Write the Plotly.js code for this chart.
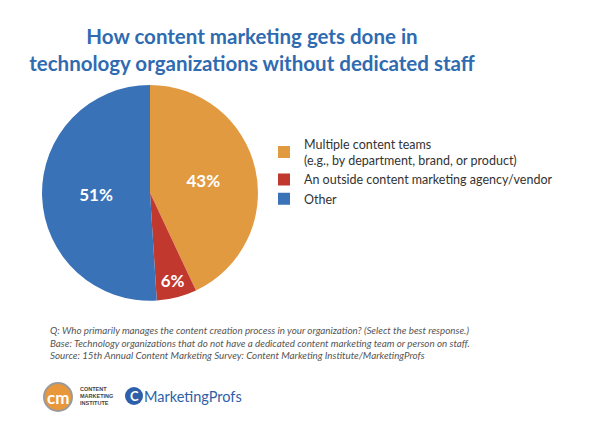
<!DOCTYPE html>
<html>
<head>
<meta charset="utf-8">
<script src="https://cdn.plot.ly/plotly-3.0.1.min.js"></script>
<style>
  html, body { margin: 0; padding: 0; background: #fff; }
  #myDiv { width: 600px; height: 431px; }
</style>
</head>
<body>
<div id="myDiv"></div>
<script>
// slices, clockwise from 12 o'clock
var labels = [
  'Multiple content teams<br>(e.g., by department, brand, or product)',
  'An outside content marketing agency/vendor',
  'Other'
];
var shares = [43, 6, 51];
var sliceColors = ['#E29A40', '#C1382F', '#3A72B8'];

var notes = [
  'Q: Who primarily manages the content creation process in your organization? (Select the best response.)',
  'Base: Technology organizations that do not have a dedicated content marketing team or person on staff.',
  'Source: 15th Annual Content Marketing Survey: Content Marketing Institute/MarketingProfs'
];

var pie = {
  type: 'pie',
  labels: labels,
  values: shares,
  sort: false,
  direction: 'clockwise',
  rotation: 0,
  marker: { colors: sliceColors, line: { width: 0 } },
  texttemplate: '<b>%{value}%</b>',
  textposition: 'inside',
  insidetextorientation: 'horizontal',
  textfont: { family: 'Lato, sans-serif', size: 17, color: '#fff' },
  hoverinfo: 'label+value',
  domain: { x: [0.07, 0.43], y: [0.302, 0.803] }
};

var layout = {
  width: 600,
  height: 431,
  margin: { l: 0, r: 0, t: 0, b: 0 },
  paper_bgcolor: '#fff',
  title: {
    text: '<b>How content marketing gets done in<br>technology organizations without dedicated staff</b>',
    font: { family: 'Lato, sans-serif', size: 20.5, color: '#2F6BB1', weight: 'bold' },
    x: 0.42, xanchor: 'center',
    y: 1 - 44 / 431, yanchor: 'middle'
  },
  showlegend: true,
  legend: {
    x: 0.44, xanchor: 'left',
    y: 0.70, yanchor: 'top',
    font: { family: 'Lato, sans-serif', size: 12.5, color: '#333' },
    itemwidth: 30
  },
  shapes: [
    // CMI logo circle
    { type: 'circle', xref: 'paper', yref: 'paper', layer: 'below',
      x0: 44 / 600, x1: 72 / 600, y0: 1 - 411 / 431, y1: 1 - 383 / 431,
      fillcolor: '#E8973A', line: { color: '#9a9a9a', width: 2 } },
    // MarketingProfs logo circle
    { type: 'circle', xref: 'paper', yref: 'paper', layer: 'below',
      x0: 125 / 600, x1: 143 / 600, y0: 1 - 405 / 431, y1: 1 - 387 / 431,
      fillcolor: '#2E5FA8', line: { width: 0 } }
  ],
  annotations: [
    { text: '<i>' + notes.join('<br>') + '</i>', xref: 'paper', yref: 'paper',
      x: 48 / 600, y: 1 - 322 / 431, xanchor: 'left', yanchor: 'top', align: 'left',
      showarrow: false,
      font: { family: 'Lato, sans-serif', size: 9.8, color: '#555' } },
    { text: '<b>cm</b>', xref: 'paper', yref: 'paper',
      x: 58 / 600, y: 1 - 397 / 431, xanchor: 'center', yanchor: 'middle', showarrow: false,
      font: { family: 'Lato, sans-serif', size: 17, color: '#fff' } },
    { text: '<b>CONTENT<br>MARKETING<br>INSTITUTE</b>', xref: 'paper', yref: 'paper',
      x: 78 / 600, y: 1 - 396 / 431, xanchor: 'left', yanchor: 'middle', align: 'left',
      showarrow: false,
      font: { family: 'Liberation Sans, sans-serif', size: 5.5, color: '#444' } },
    { text: '<b>C</b>', xref: 'paper', yref: 'paper',
      x: 134 / 600, y: 1 - 396 / 431, xanchor: 'center', yanchor: 'middle', showarrow: false,
      font: { family: 'Lato, sans-serif', size: 13, color: '#fff' } },
    { text: 'MarketingProfs', xref: 'paper', yref: 'paper',
      x: 142 / 600, y: 1 - 396 / 431, xanchor: 'left', yanchor: 'middle', showarrow: false,
      font: { family: 'Lato, sans-serif', size: 14.5, color: '#2E5FA8' } }
  ]
};

Plotly.newPlot('myDiv', [pie], layout, { displayModeBar: false, staticPlot: true });
</script>
</body>
</html>
